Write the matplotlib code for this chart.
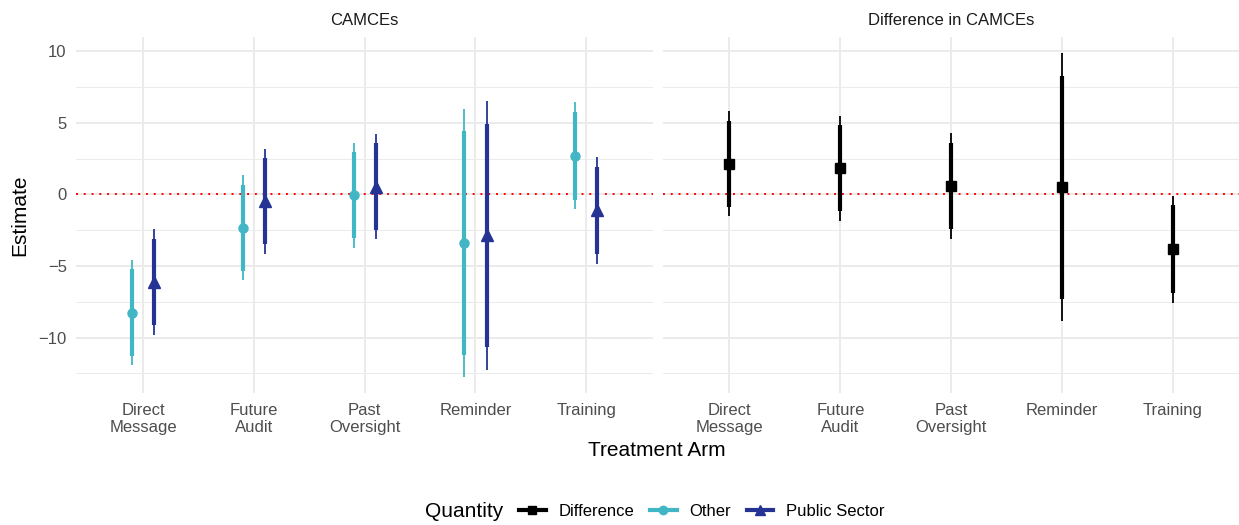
import numpy as np
import matplotlib
matplotlib.use("Agg")
import matplotlib.pyplot as plt
from matplotlib.lines import Line2D

plt.rcParams['font.family'] = ['Liberation Sans', 'DejaVu Sans']

arms = ["Direct\nMessage", "Future\nAudit", "Past\nOversight", "Reminder", "Training"]

# CAMCE estimates with 90% (thick) and 95% (thin) intervals
other_est = [-8.26, -2.34, -0.05, -3.40, 2.70]
other_lo90 = [-11.28, -5.35, -3.05, -11.19, -0.37]
other_hi90 = [-5.23, 0.67, 2.95, 4.40, 5.77]
other_lo95 = [-11.93, -6.00, -3.72, -12.74, -1.02]
other_hi95 = [-4.56, 1.33, 3.60, 5.95, 6.42]

pub_est = [-6.12, -0.48, 0.55, -2.86, -1.10]
pub_lo90 = [-9.14, -3.49, -2.47, -10.65, -4.16]
pub_hi90 = [-3.09, 2.53, 3.58, 4.93, 1.95]
pub_lo95 = [-9.79, -4.14, -3.12, -12.23, -4.84]
pub_hi95 = [-2.44, 3.19, 4.23, 6.49, 2.60]

diff_est = [2.14, 1.84, 0.58, 0.51, -3.82]
diff_lo90 = [-0.88, -1.19, -2.44, -7.28, -6.88]
diff_hi90 = [5.16, 4.86, 3.60, 8.30, -0.77]
diff_lo95 = [-1.53, -1.84, -3.09, -8.86, -7.56]
diff_hi95 = [5.81, 5.49, 4.26, 9.86, -0.12]

c_other = '#41B6C4'
c_pub = '#253494'
c_diff = '#000000'
grid_c = '#EBEBEB'
tick_c = '#4D4D4D'

fig = plt.figure(figsize=(12.39, 5.25), dpi=100)
ax1 = fig.add_axes([0.0617, 0.2514, 0.4652, 0.678])
ax2 = fig.add_axes([0.5351, 0.2514, 0.4652, 0.678])

x = np.arange(len(arms))

lo_all = min(other_lo95 + pub_lo95 + diff_lo95)
hi_all = max(other_hi95 + pub_hi95 + diff_hi95)
pad = 0.05 * (hi_all - lo_all)


def draw_series(ax, xs, est, lo90, hi90, lo95, hi95, color, marker, ms):
    ax.vlines(xs, lo95, hi95, color=color, lw=1.3, zorder=3)
    ax.vlines(xs, lo90, hi90, color=color, lw=3.0, zorder=3)
    ax.plot(xs, est, linestyle='none', marker=marker, color=color,
            markersize=ms, zorder=4)


for ax in (ax1, ax2):
    ax.set_xlim(-0.6, len(arms) - 0.4)
    ax.set_ylim(lo_all - pad, hi_all + pad)
    ax.set_xticks(x)
    ax.set_xticklabels(arms, fontsize=12, color=tick_c, linespacing=1.15)
    ax.set_yticks([-10, -5, 0, 5, 10])
    ax.set_yticks([-12.5, -7.5, -2.5, 2.5, 7.5], minor=True)
    ax.tick_params(axis='both', which='both', length=0, pad=7)
    ax.grid(True, which='major', color=grid_c, lw=1.4, zorder=0)
    ax.grid(True, which='minor', axis='y', color=grid_c, lw=0.7, zorder=0)
    for s in ax.spines.values():
        s.set_visible(False)
    ax.set_axisbelow(True)
    ax.axhline(0, color='red', linestyle=(0, (1, 3)), lw=1.4, zorder=2)

ax1.set_yticklabels(['\u221210', '\u22125', '0', '5', '10'], fontsize=12, color=tick_c)
ax2.tick_params(axis='y', labelleft=False)

draw_series(ax1, x - 0.1, other_est, other_lo90, other_hi90, other_lo95, other_hi95,
            c_other, 'o', 6.5)
draw_series(ax1, x + 0.1, pub_est, pub_lo90, pub_hi90, pub_lo95, pub_hi95,
            c_pub, '^', 8)
draw_series(ax2, x, diff_est, diff_lo90, diff_hi90, diff_lo95, diff_hi95,
            c_diff, 's', 6.5)

ax1.set_title('CAMCEs', fontsize=12, color='#1A1A1A', pad=9)
ax2.set_title('Difference in CAMCEs', fontsize=12, color='#1A1A1A', pad=9)

fig.text(0.0161, 0.5905, 'Estimate', rotation=90, fontsize=15, ha='center', va='center')
fig.text(0.5302, 0.141, 'Treatment Arm', fontsize=15, ha='center', va='center')

handles = [
    Line2D([], [], color=c_diff, lw=3, marker='s', markersize=6),
    Line2D([], [], color=c_other, lw=3, marker='o', markersize=6),
    Line2D([], [], color=c_pub, lw=3, marker='^', markersize=7),
]
fig.text(0.343, 0.026, 'Quantity', fontsize=15, ha='left', va='center')
fig.legend(handles, ['Difference', 'Other', 'Public Sector'], loc='center left',
           bbox_to_anchor=(0.419, 0.026), ncol=3, frameon=False, fontsize=12,
           handlelength=1.6, handletextpad=0.75, columnspacing=0.95,
           borderaxespad=0, borderpad=0)

fig.savefig('out.png', dpi=100)
